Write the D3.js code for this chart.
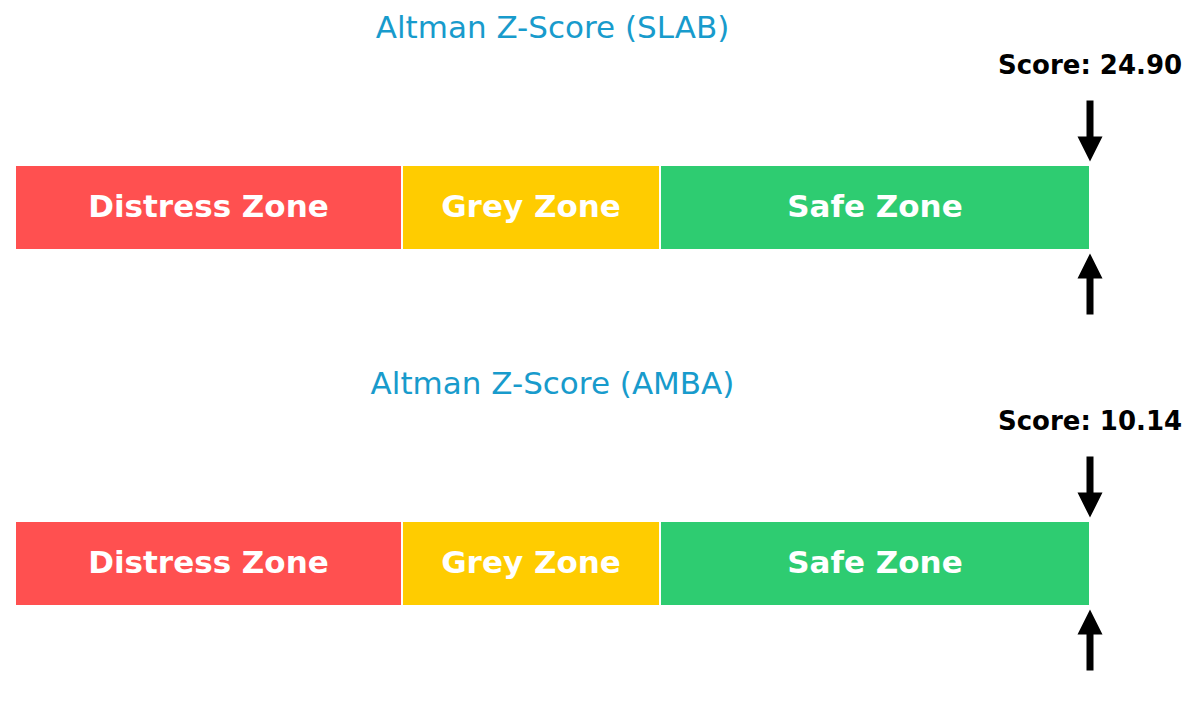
<!DOCTYPE html>
<html>
<head>
<meta charset="utf-8">
<script src="https://cdn.jsdelivr.net/npm/d3@7"></script>
<style>
  body { margin: 0; background: #fff; }
  svg { display: block; font-family: "DejaVu Sans", sans-serif; }
</style>
</head>
<body>
<svg id="chart"></svg>
<script>
// data
const tickers = ["SLAB", "AMBA"];
const scores = [24.90, 10.14];
const zoneNames = ["Distress Zone", "Grey Zone", "Safe Zone"];
const zoneStarts = [0, 1.8, 3];
const zoneEnds = [1.8, 3, 5];
const zoneColors = ["#ff5050", "#ffcc00", "#2ecc71"];
const xMax = 5;

const width = 1200, height = 712;
const svg = d3.select("#chart").attr("width", width).attr("height", height);

// shared x scale, score is clipped to the end of the bar
const x = d3.scaleLinear().domain([0, xMax]).range([15, 1090]);

// one band per panel
const panel = d3.scaleBand().domain(tickers).range([0, 712]).paddingInner(0);

tickers.forEach((t, i) => {
  const top = panel(t);
  // local y, bar sits between -0.5 and 0.5
  const y = d3.scaleLinear().domain([0.5, -0.5]).range([top + 165, top + 250]);
  const g = svg.append("g");

  g.append("text")
    .attr("x", (x(0) + x(xMax)) / 2)
    .attr("y", y(2.0))
    .attr("text-anchor", "middle")
    .style("font-size", "31px")
    .style("fill", "#189bcc")
    .text(`Altman Z-Score (${t})`);

  g.selectAll(".zone")
    .data(zoneNames)
    .enter().append("rect")
    .attr("x", (d, j) => x(zoneStarts[j]))
    .attr("y", y(0.5))
    .attr("width", (d, j) => x(zoneEnds[j]) - x(zoneStarts[j]))
    .attr("height", y(-0.5) - y(0.5))
    .style("fill", (d, j) => zoneColors[j])
    .style("stroke", "#fff")
    .style("stroke-width", 2);

  g.selectAll(".zlabel")
    .data(zoneNames)
    .enter().append("text")
    .attr("x", (d, j) => x((zoneStarts[j] + zoneEnds[j]) / 2))
    .attr("y", y(0))
    .attr("dy", "0.3em")
    .attr("text-anchor", "middle")
    .style("font-size", "31px")
    .style("font-weight", "bold")
    .style("fill", "#fff")
    .text(d => d);

  const sx = x(Math.min(scores[i], xMax));

  // arrows: from above pointing down, from below pointing up
  const arrow = (y0, y1) => {
    const dir = y1 > y0 ? 1 : -1;
    const head = 25, hw = 12.5, sw = 3.5;
    const p = d3.path();
    p.moveTo(sx - sw, y0);
    p.lineTo(sx - sw, y1 - dir * head);
    p.lineTo(sx - hw, y1 - dir * head);
    p.lineTo(sx, y1);
    p.lineTo(sx + hw, y1 - dir * head);
    p.lineTo(sx + sw, y1 - dir * head);
    p.lineTo(sx + sw, y0);
    p.closePath();
    return p.toString();
  };

  g.append("path").attr("d", arrow(y(1.26), y(0.54))).style("fill", "#000");
  g.append("path").attr("d", arrow(y(-1.26), y(-0.54))).style("fill", "#000");

  g.append("text")
    .attr("x", sx)
    .attr("y", y(1.57))
    .attr("text-anchor", "middle")
    .style("font-size", "26px")
    .style("font-weight", "bold")
    .style("fill", "#000")
    .text(`Score: ${scores[i].toFixed(2)}`);
});
</script>
</body>
</html>
